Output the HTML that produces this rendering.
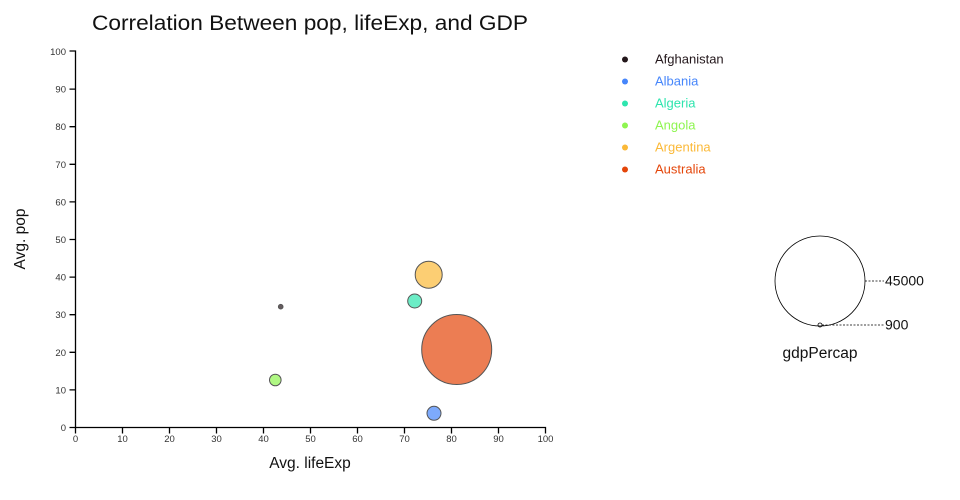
<!DOCTYPE html>
<html><head><meta charset="utf-8"><style>
html,body{margin:0;padding:0;background:#fff;}
svg{display:block;font-family:"Liberation Sans","DejaVu Sans",sans-serif;}
.tk{font-size:9.5px;fill:#333;}
</style></head><body>
<svg width="960" height="500" viewBox="0 0 960 500" xmlns="http://www.w3.org/2000/svg">
<text x="92" y="30" font-size="21" fill="#111" textLength="436" lengthAdjust="spacingAndGlyphs">Correlation Between pop, lifeExp, and GDP</text>
<!-- axes -->
<g stroke="#000" stroke-width="1.3" fill="none">
<path d="M69.5,51H75.5V427.5H545.5V433.5"/>
<path d="M69.5,427.5H75.5V433.5"/>
<path d="M122.5,427.5v6M169.5,427.5v6M216.5,427.5v6M263.5,427.5v6M310.5,427.5v6M357.5,427.5v6M404.5,427.5v6M451.5,427.5v6M498.5,427.5v6"/>
<path d="M69.5,389.9h6M69.5,352.3h6M69.5,314.7h6M69.5,277.1h6M69.5,239.5h6M69.5,201.9h6M69.5,164.3h6M69.5,126.7h6M69.5,89.1h6"/>
</g>
<g class="tk" text-anchor="middle">
<text x="75.5" y="442">0</text><text x="122.5" y="442">10</text><text x="169.5" y="442">20</text><text x="216.5" y="442">30</text><text x="263.5" y="442">40</text><text x="310.5" y="442">50</text><text x="357.5" y="442">60</text><text x="404.5" y="442">70</text><text x="451.5" y="442">80</text><text x="498.5" y="442">90</text><text x="545.5" y="442">100</text>
</g>
<g class="tk" text-anchor="end">
<text x="66" y="431">0</text><text x="66" y="393.4">10</text><text x="66" y="355.8">20</text><text x="66" y="318.2">30</text><text x="66" y="280.6">40</text><text x="66" y="243">50</text><text x="66" y="205.4">60</text><text x="66" y="167.8">70</text><text x="66" y="130.2">80</text><text x="66" y="92.6">90</text><text x="66" y="55">100</text>
</g>
<text x="310" y="468" font-size="15.5" fill="#111" text-anchor="middle">Avg. lifeExp</text>
<text transform="translate(25,239) rotate(-90)" font-size="15.5" fill="#111" text-anchor="middle">Avg. pop</text>
<!-- bubbles -->
<g stroke="#555" stroke-width="1" fill-opacity="0.7">
<circle cx="456.7" cy="349.5" r="35" fill="#e4460a"/>
<circle cx="428.7" cy="274.7" r="13.5" fill="#fbb938"/>
<circle cx="414.7" cy="301" r="7" fill="#2ee5ae"/>
<circle cx="434" cy="413.3" r="7" fill="#4686fb"/>
<circle cx="275.3" cy="380" r="5.8" fill="#8ef550"/>
<circle cx="280.7" cy="306.7" r="2.3" fill="#23171b"/>
</g>
<!-- legend -->
<g font-size="13">
<circle cx="625" cy="59.5" r="3" fill="#23171b"/><text x="655" y="63.5" fill="#23171b">Afghanistan</text>
<circle cx="625" cy="81.5" r="3" fill="#4686fb"/><text x="655" y="85.5" fill="#4686fb">Albania</text>
<circle cx="625" cy="103.5" r="3" fill="#2ee5ae"/><text x="655" y="107.5" fill="#2ee5ae">Algeria</text>
<circle cx="625" cy="125.5" r="3" fill="#8ef550"/><text x="655" y="129.5" fill="#8ef550">Angola</text>
<circle cx="625" cy="147.5" r="3" fill="#fbb938"/><text x="655" y="151.5" fill="#fbb938">Argentina</text>
<circle cx="625" cy="169.5" r="3" fill="#e4460a"/><text x="655" y="173.5" fill="#e4460a">Australia</text>
</g>
<!-- size legend -->
<g fill="none" stroke="#000" stroke-width="0.8">
<circle cx="820" cy="281" r="45"/>
<circle cx="820" cy="325" r="2"/>
<path d="M865,281H884" stroke-dasharray="2,1.5"/>
<path d="M822,325H884" stroke-dasharray="2,1.5"/>
</g>
<text x="885" y="285.5" font-size="14" fill="#111">45000</text>
<text x="885" y="329.5" font-size="14" fill="#111">900</text>
<text x="820" y="358" font-size="15.5" fill="#111" text-anchor="middle">gdpPercap</text>
</svg>
</body></html>
